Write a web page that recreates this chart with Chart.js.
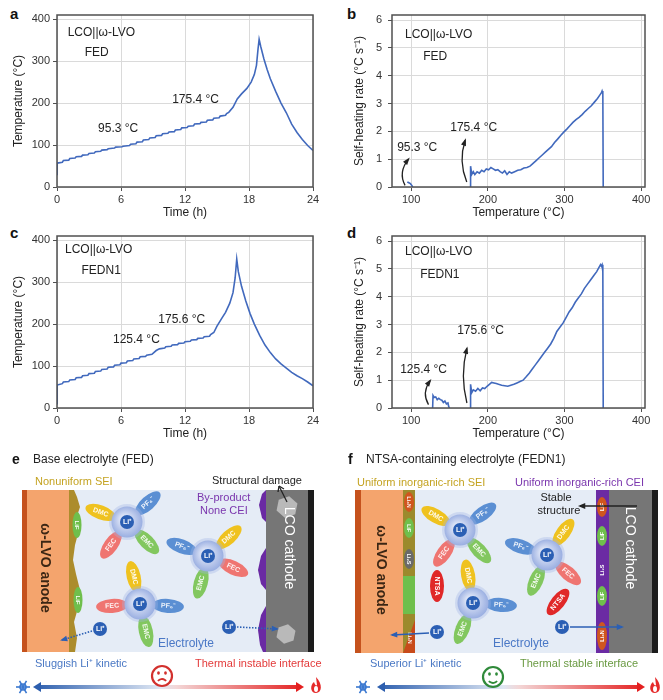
<!DOCTYPE html>
<html>
<head>
<meta charset="utf-8">
<script src="https://cdn.jsdelivr.net/npm/chart.js@4.4.0/dist/chart.umd.min.js"></script>
<style>
  body { margin: 0; background: #fff; width: 663px; height: 700px; position: relative; overflow: hidden;
         font-family: "Liberation Sans", Arial, sans-serif; }
  .box { position: absolute; }
  .tag { position: absolute; font-weight: bold; font-size: 15px; line-height: 15px; color: #111; }
  #scheme { position: absolute; left: 0; top: 440px; }
</style>
</head>
<body>
<div class="tag" style="left:10px;top:6px">a</div>
<div class="tag" style="left:347px;top:6px">b</div>
<div class="tag" style="left:10px;top:225px">c</div>
<div class="tag" style="left:347px;top:225px">d</div>
<div class="box" style="left:0;top:0;width:330px;height:222px"><canvas id="chartA"></canvas></div>
<div class="box" style="left:330px;top:0;width:333px;height:222px"><canvas id="chartB"></canvas></div>
<div class="box" style="left:0;top:221px;width:330px;height:222px"><canvas id="chartC"></canvas></div>
<div class="box" style="left:330px;top:221px;width:333px;height:222px"><canvas id="chartD"></canvas></div>
<canvas id="scheme" width="663" height="260"></canvas>
<script>
// ---- data ----
// a: FED, time (h) vs temperature (°C)
const timeA = [0, 0.02, 0.5, 0.6, 1.1, 1.2, 1.7, 1.8, 2.3, 2.4, 2.9, 3.0, 3.5, 3.6, 4.1, 4.2, 4.7, 4.8, 5.4, 5.5,
  6.1, 6.2, 6.8, 6.9, 7.4, 7.5, 8.0, 8.1, 8.6, 8.7, 9.2, 9.3, 9.8, 9.9, 10.4, 10.5, 11.0, 11.1, 11.6, 11.7,
  12.2, 12.3, 12.8, 12.9, 13.4, 13.5, 14.0, 14.1, 14.6, 14.7, 15.2, 15.3, 15.8, 15.9, 16.1, 16.5, 16.9, 17.3,
  17.8, 18.2, 18.5, 18.7, 18.85, 18.95, 19.1, 19.4, 19.7, 20.0, 20.5, 21.0, 21.5, 22.0, 22.5, 23.0, 23.5, 24.0]
const tempA = [30, 57, 59, 63, 64, 68, 69, 72, 73, 76, 77, 80, 81, 84, 85, 88, 89, 91, 93, 95,
  96, 97, 99, 102, 103, 107, 108, 112, 113, 117, 118, 122, 123, 127, 128, 131, 132, 136, 137, 141,
  142, 145, 146, 150, 151, 154, 155, 159, 160, 164, 165, 169, 171, 175, 178, 190, 210, 222,
  235, 250, 268, 290, 330, 352, 335, 305, 280, 258, 228, 200, 177, 150, 130, 113, 99, 87]

// c: FEDN1, time (h) vs temperature (°C)
const timeC = [0, 0.02, 0.5, 0.6, 1.1, 1.2, 1.7, 1.8, 2.3, 2.4, 2.9, 3.0, 3.5, 3.6, 4.1, 4.2, 4.7, 4.8, 5.3, 5.4,
  5.9, 6.0, 6.5, 6.6, 7.1, 7.2, 7.7, 7.8, 8.3, 8.4, 8.9, 9.3, 9.6, 10.1, 10.2, 10.7, 10.8, 11.3, 11.4, 11.9,
  12.0, 12.5, 12.6, 13.1, 13.2, 13.7, 13.8, 14.3, 14.4, 14.7, 15.0, 15.4, 15.8, 16.2, 16.5, 16.7, 16.85, 17.0,
  17.3, 17.7, 18.1, 18.5, 19.0, 19.5, 20.0, 20.5, 21.0, 21.5, 22.0, 22.5, 23.0, 23.5, 24.0]
const tempC = [10, 55, 58, 62, 63, 67, 68, 72, 73, 77, 78, 82, 83, 87, 88, 92, 93, 97, 98, 102,
  103, 107, 108, 112, 113, 117, 118, 122, 123, 126, 128, 137, 141, 143, 146, 147, 150, 151, 154, 155,
  158, 159, 162, 163, 166, 167, 170, 171, 175, 180, 195, 212, 228, 250, 275, 310, 355, 325,
  290, 255, 225, 200, 173, 150, 132, 117, 105, 95, 85, 77, 70, 62, 53]

// b: FED, temperature (°C) vs self-heating rate (°C/s); null splits the two segments
const tempB = [95, 97, 99, 101, 102, null,
  177, 177.5, 179, 181, 183, 186, 189, 192, 195, 198, 201, 204, 207, 210, 213, 216, 219, 222, 225, 228, 231,
  235, 239, 243, 247, 251, 255, 259, 263, 267, 271, 275, 279, 283, 287, 291, 295, 299, 303, 307, 311, 315,
  319, 323, 327, 331, 335, 339, 343, 346, 348, 349, 350, 350.5]
const rateB = [0.18, 0.15, 0.12, 0.05, 0, null,
  0, 0.75, 0.45, 0.55, 0.45, 0.55, 0.5, 0.6, 0.55, 0.65, 0.62, 0.7, 0.65, 0.6, 0.62, 0.55, 0.5, 0.58, 0.45, 0.55, 0.5,
  0.55, 0.6, 0.62, 0.68, 0.7, 0.75, 0.85, 0.95, 1.05, 1.15, 1.25, 1.35, 1.45, 1.6, 1.72, 1.85, 1.97, 2.08, 2.2, 2.32, 2.42,
  2.5, 2.6, 2.72, 2.82, 2.92, 3.05, 3.18, 3.3, 3.38, 3.45, 3.35, 0]

// d: FEDN1, temperature (°C) vs self-heating rate (°C/s)
const tempD = [128, 128.5, 130, 132, 134, 136, 138, 140, 142, 144, 146, 148, 149, 150, null,
  177, 177.5, 179, 181, 184, 187, 190, 193, 196, 199, 202, 205, 208, 211, 214, 218, 222, 226, 230, 234, 238,
  242, 246, 250, 254, 258, 262, 266, 270, 274, 278, 282, 286, 290, 294, 298, 302, 306, 310, 314, 318, 322,
  326, 330, 334, 338, 342, 345, 347, 348, 349, 350, 350.5]
const rateD = [0, 0.45, 0.38, 0.4, 0.3, 0.35, 0.3, 0.28, 0.2, 0.25, 0.15, 0.18, 0.05, 0, null,
  0, 0.85, 0.55, 0.65, 0.6, 0.7, 0.62, 0.72, 0.7, 0.78, 0.85, 0.92, 0.9, 0.88, 0.85, 0.82, 0.8, 0.78, 0.82, 0.85, 0.9,
  0.95, 1.0, 1.12, 1.25, 1.4, 1.55, 1.7, 1.85, 2.0, 2.15, 2.3, 2.5, 2.75, 2.9, 3.05, 3.25, 3.45, 3.6, 3.8, 3.95, 4.1,
  4.3, 4.45, 4.6, 4.75, 4.9, 5.05, 5.15, 5.1, 5.15, 4.9, 0]

const timeTicks = [0, 6, 12, 18, 24]
const tempTicks = [0, 100, 200, 300, 400]
const tempAxisTicks = [100, 200, 300, 400]
const rateTicks = [0, 1, 2, 3, 4, 5, 6]

const FONT = '"Liberation Sans", Arial, sans-serif'
Chart.defaults.font.family = FONT
Chart.defaults.color = '#222'

// box around plot area, text notes and curved arrows
const framePlugin = {
  id: 'frame',
  afterDatasetsDraw(chart, args, opts) {
    const {ctx, chartArea: a, scales: {x, y}} = chart
    ctx.save()
    ctx.strokeStyle = '#505050'
    ctx.lineWidth = 1.5
    ctx.strokeRect(a.left, a.top, a.right - a.left, a.bottom - a.top)
    ctx.fillStyle = '#222'
    ctx.font = '12px ' + FONT
    ctx.textBaseline = 'middle'
    ;(opts.notes || []).forEach(n => ctx.fillText(n.text, x.getPixelForValue(n.x), y.getPixelForValue(n.y)))
    ctx.strokeStyle = '#222'
    ctx.lineWidth = 1.3
    ;(opts.arrows || []).forEach(ar => {
      const x0 = x.getPixelForValue(ar.from[0]), y0 = y.getPixelForValue(ar.from[1])
      const x1 = x.getPixelForValue(ar.to[0]), y1 = y.getPixelForValue(ar.to[1])
      const cx = Math.min(x0, x1) - 7, cy = (y0 + y1) / 2
      ctx.beginPath()
      ctx.moveTo(x0, y0)
      ctx.quadraticCurveTo(cx, cy, x1, y1)
      ctx.stroke()
      const ang = Math.atan2(y1 - cy, x1 - cx)
      ctx.beginPath()
      ctx.moveTo(x1 + 2 * Math.cos(ang), y1 + 2 * Math.sin(ang))
      ctx.lineTo(x1 - 6 * Math.cos(ang - 0.45), y1 - 6 * Math.sin(ang - 0.45))
      ctx.lineTo(x1 - 6 * Math.cos(ang + 0.45), y1 - 6 * Math.sin(ang + 0.45))
      ctx.closePath()
      ctx.fill()
    })
    ctx.restore()
  }
}

function build(id, xs, ys, cfg) {
  const pts = xs.map((v, i) => ({x: v === null ? NaN : v, y: ys[i]}))
  return new Chart(document.getElementById(id), {
    type: 'line',
    data: {datasets: [{data: pts, borderColor: '#4169bd', borderWidth: 1.6, pointRadius: 0, tension: 0, spanGaps: false}]},
    options: {
      responsive: true,
      maintainAspectRatio: false,
      animation: false,
      layout: {padding: {left: 0, right: cfg.padR, top: 15, bottom: 0}},
      plugins: {legend: {display: false}, tooltip: {enabled: false}, frame: {notes: cfg.notes, arrows: cfg.arrows}},
      scales: {
        x: {
          type: 'linear', min: cfg.xMin, max: cfg.xMax,
          afterBuildTicks: s => { s.ticks = cfg.xTicks.map(v => ({value: v})) },
          afterFit: s => { s.height = 35 },
          grid: {color: '#dadada', tickLength: 4, tickColor: '#505050'},
          border: {display: false},
          ticks: {font: {size: 11}, padding: 2, color: '#333', maxRotation: 0},
          title: {display: true, text: cfg.xTitle, font: {size: 12}, color: '#222', padding: {top: 0, bottom: 2}}
        },
        y: {
          type: 'linear', min: 0, max: cfg.yMax,
          afterBuildTicks: s => { s.ticks = cfg.yTicks.map(v => ({value: v})) },
          afterFit: s => { s.width = cfg.yW },
          grid: {color: '#dadada', tickLength: 4, tickColor: '#505050'},
          border: {display: false},
          ticks: {font: {size: 11}, padding: cfg.yPad, color: '#333'},
          title: {display: true, text: cfg.yTitle, font: {size: 12}, color: '#222', padding: {top: cfg.yTitlePad, bottom: 0}}
        }
      }
    },
    plugins: [framePlugin]
  })
}

build('chartA', timeA, tempA, {
  xMin: 0, xMax: 24, xTicks: timeTicks, yMax: 410, yTicks: tempTicks, padR: 17, yW: 57, yPad: 3, yTitlePad: 11,
  xTitle: 'Time (h)', yTitle: 'Temperature (°C)',
  notes: [{text: 'LCO||ω-LVO', x: 1.0, y: 369}, {text: 'FED', x: 2.6, y: 319},
          {text: '95.3 °C', x: 3.85, y: 140}, {text: '175.4 °C', x: 10.8, y: 207}]
})
build('chartB', tempB, rateB, {
  xMin: 75, xMax: 405, xTicks: tempAxisTicks, yMax: 6.18, yTicks: rateTicks, padR: 18, yW: 62, yPad: 6, yTitlePad: 22,
  xTitle: 'Temperature (°C)', yTitle: 'Self-heating rate (°C s⁻¹)',
  notes: [{text: 'LCO||ω-LVO', x: 92, y: 5.47}, {text: 'FED', x: 115.7, y: 4.68},
          {text: '95.3 °C', x: 81.7, y: 1.4}, {text: '175.4 °C', x: 151, y: 2.12}],
  arrows: [{from: [92, 0.06], to: [96.5, 1.0]}, {from: [172.5, 0.18], to: [170.5, 1.68]}]
})
build('chartC', timeC, tempC, {
  xMin: 0, xMax: 24, xTicks: timeTicks, yMax: 410, yTicks: tempTicks, padR: 17, yW: 57, yPad: 3, yTitlePad: 11,
  xTitle: 'Time (h)', yTitle: 'Temperature (°C)',
  notes: [{text: 'LCO||ω-LVO', x: 0.75, y: 378}, {text: 'FEDN1', x: 2.3, y: 327},
          {text: '125.4 °C', x: 5.25, y: 162}, {text: '175.6 °C', x: 9.5, y: 211}]
})
build('chartD', tempD, rateD, {
  xMin: 75, xMax: 405, xTicks: tempAxisTicks, yMax: 6.18, yTicks: rateTicks, padR: 18, yW: 62, yPad: 6, yTitlePad: 22,
  xTitle: 'Temperature (°C)', yTitle: 'Self-heating rate (°C s⁻¹)',
  notes: [{text: 'LCO||ω-LVO', x: 92, y: 5.6}, {text: 'FEDN1', x: 111.7, y: 4.78},
          {text: '175.6 °C', x: 160, y: 2.76}, {text: '125.4 °C', x: 85.6, y: 1.36}],
  arrows: [{from: [122.6, 0.12], to: [124.8, 0.98]}, {from: [172.7, 0.18], to: [172.7, 2.14]}]
})

// ---- schematic panels e and f (illustration, drawn on a plain canvas) ----
const g = document.getElementById('scheme').getContext('2d')
g.translate(0, -440)

function txt(s, x, y, color, size, bold, align, rot) {
  g.save()
  g.translate(x, y)
  if (rot) g.rotate(rot)
  g.fillStyle = color
  g.font = (bold ? 'bold ' : '') + size + 'px ' + FONT
  g.textAlign = align || 'left'
  g.textBaseline = 'middle'
  g.fillText(s, 0, 0)
  g.restore()
}
function ell(x, y, rx, ry, rot, fill) {
  g.beginPath()
  g.ellipse(x, y, rx, ry, rot, 0, Math.PI * 2)
  g.fillStyle = fill
  g.fill()
}
function poly(pts, fill) {
  g.beginPath()
  pts.forEach((p, i) => i ? g.lineTo(p[0], p[1]) : g.moveTo(p[0], p[1]))
  g.closePath()
  g.fillStyle = fill
  g.fill()
}
const petalColor = {DMC: '#efc21f', 'PF₆⁻': '#5b8fd3', EMC: '#82c75f', FEC: '#ef7571', NTSA: '#e02828'}
function liIon(x, y, r) {
  ell(x, y, r, r, 0, '#2b5fb4')
  txt('Li⁺', x, y + 0.5, '#fff', r, true, 'center')
}
function cluster(cx, cy, petals) {
  petals.forEach(([name, deg]) => {
    const a = deg * Math.PI / 180
    const px = cx + 28 * Math.cos(a), py = cy + 28 * Math.sin(a)
    ell(px, py, 16, 7, a, petalColor[name])
    const flip = Math.cos(a) < 0 ? a + Math.PI : a
    txt(name, px, py, 'rgba(255,255,255,0.9)', 7, true, 'center', flip)
  })
  const grd = g.createRadialGradient(cx - 3, cy - 3, 2, cx, cy, 17)
  grd.addColorStop(0, '#e8edfa')
  grd.addColorStop(1, '#93a9df')
  ell(cx, cy, 18, 18, 0, 'rgba(160,180,230,0.35)')
  ell(cx, cy, 15.5, 15.5, 0, grd)
  liIon(cx, cy, 7)
}
function arrowLine(x0, y0, x1, y1, color, dotted) {
  g.save()
  g.strokeStyle = color
  g.fillStyle = color
  g.lineWidth = 1.6
  if (dotted) g.setLineDash([1.5, 1.5])
  g.beginPath(); g.moveTo(x0, y0); g.lineTo(x1, y1); g.stroke()
  g.setLineDash([])
  const a = Math.atan2(y1 - y0, x1 - x0)
  g.beginPath()
  g.moveTo(x1 + 2 * Math.cos(a), y1 + 2 * Math.sin(a))
  g.lineTo(x1 - 6 * Math.cos(a - 0.5), y1 - 6 * Math.sin(a - 0.5))
  g.lineTo(x1 - 6 * Math.cos(a + 0.5), y1 - 6 * Math.sin(a + 0.5))
  g.closePath(); g.fill()
  g.restore()
}
function hexa(x, y, r, fill) {
  const pts = []
  for (let i = 0; i < 6; i++) {
    const a = Math.PI / 6 + i * Math.PI / 3 + 0.2
    pts.push([x + r * Math.cos(a), y + r * Math.sin(a)])
  }
  poly(pts, fill)
}
function snow(x, y, color) {
  g.save()
  g.strokeStyle = color; g.lineWidth = 1.6
  for (let i = 0; i < 3; i++) {
    const a = i * Math.PI / 3
    g.beginPath()
    g.moveTo(x - 7 * Math.cos(a), y - 7 * Math.sin(a)); g.lineTo(x + 7 * Math.cos(a), y + 7 * Math.sin(a))
    g.stroke()
  }
  g.beginPath(); g.arc(x, y, 3, 0, Math.PI * 2); g.stroke()
  g.restore()
}
function flame(x, y, color) {
  g.beginPath()
  g.moveTo(x, y - 9)
  g.bezierCurveTo(x + 7, y - 2, x + 6, y + 7, x, y + 7)
  g.bezierCurveTo(x - 6, y + 7, x - 6, y - 1, x - 2, y - 4)
  g.bezierCurveTo(x - 1, y - 1, x, y, x + 1, y - 1)
  g.closePath()
  g.fillStyle = color; g.fill()
  ell(x, y + 3, 2, 3, 0, '#fff')
}
function face(x, y, color, happy) {
  g.save()
  g.strokeStyle = color; g.lineWidth = 2.2
  g.beginPath(); g.arc(x, y, 10, 0, Math.PI * 2); g.stroke()
  ell(x - 3.5, y - 3, 1.4, 1.8, 0, color)
  ell(x + 3.5, y - 3, 1.4, 1.8, 0, color)
  g.lineWidth = 1.8
  g.beginPath()
  if (happy) g.arc(x, y + 1, 5, 0.2 * Math.PI, 0.8 * Math.PI)
  else g.arc(x, y + 8, 5, 1.2 * Math.PI, 1.8 * Math.PI)
  g.stroke()
  g.restore()
}
function tempBar(x0, x1, y) {
  const grd = g.createLinearGradient(x0, 0, x1, 0)
  grd.addColorStop(0, '#2c5eae')
  grd.addColorStop(0.47, '#dfe7f3')
  grd.addColorStop(0.53, '#f3d6d6')
  grd.addColorStop(1, '#e41f1f')
  g.fillStyle = grd
  g.fillRect(x0 + 6, y - 2, x1 - x0 - 12, 4)
  poly([[x0, y], [x0 + 8, y - 5], [x0 + 8, y + 5]], '#2c5eae')
  poly([[x1, y], [x1 - 8, y - 5], [x1 - 8, y + 5]], '#e41f1f')
}

// panel e
txt('e', 12, 460, '#111', 14, true)
txt('Base electrolyte (FED)', 33, 460, '#222', 12, false)
txt('Nonuniform SEI', 35, 482, '#c4a321', 11, false)
txt('Structural damage', 212, 481, '#222', 11, false)
g.fillStyle = '#e5ecf6'; g.fillRect(22, 490, 292, 162)
g.fillStyle = '#c5521d'; g.fillRect(22, 490, 5, 162)
g.fillStyle = '#f4a46d'; g.fillRect(27, 490, 43, 162)
poly([[69, 490], [74, 490], [77, 497], [80, 507], [77, 516], [79, 530], [75, 545], [73, 560], [76, 574],
  [80, 590], [78, 608], [74, 622], [77, 638], [75, 652], [69, 652]], '#ac8c2c')
ell(77, 525, 4.5, 13, 0, '#6fbf4c')
ell(78, 600, 4.5, 13, 0, '#6fbf4c')
txt('LiF', 77, 525, '#fff', 6, true, 'center', Math.PI / 2)
txt('LiF', 78, 600, '#fff', 6, true, 'center', Math.PI / 2)
txt('ω-LVO anode', 45, 568, '#3b2614', 14, true, 'center', Math.PI / 2)
g.fillStyle = '#767676'; g.fillRect(266, 490, 42, 162)
g.fillStyle = '#1b1b1b'; g.fillRect(308, 490, 6, 162)
poly([[266, 490], [262, 494], [259, 505], [262, 518], [266, 522]], '#6a2aa3')
poly([[266, 548], [261, 556], [258, 570], [261, 584], [266, 590]], '#6a2aa3')
poly([[266, 606], [261, 615], [258, 630], [260, 645], [263, 652], [266, 652]], '#6a2aa3')
hexa(287, 507, 11, '#b9b9b9')
hexa(286, 634, 10, '#b9b9b9')
txt('LCO cathode', 289, 548, '#fff', 14, false, 'center', Math.PI / 2)
g.save(); g.strokeStyle = '#222'; g.lineWidth = 1.3
g.beginPath(); g.moveTo(287, 502); g.lineTo(279, 486); g.stroke()
g.beginPath(); g.moveTo(279, 486); g.lineTo(278, 492); g.moveTo(279, 486); g.lineTo(284, 489); g.stroke(); g.restore()
txt('By-product', 197, 498, '#7a35ad', 11, false)
txt('None CEI', 200, 511, '#7a35ad', 11, false)
cluster(127, 522, [['DMC', -160], ['PF₆⁻', -42], ['FEC', 125], ['EMC', 45]])
cluster(208, 556, [['PF₆⁻', -160], ['DMC', -42], ['FEC', 25], ['EMC', 105]])
cluster(140, 604, [['DMC', -103], ['FEC', 176], ['PF₆⁻', 4], ['EMC', 78]])
liIon(100, 629, 7)
arrowLine(92, 631, 62, 640, '#2b5fb4', true)
liIon(229, 627, 7)
arrowLine(237, 627, 277, 629, '#2b5fb4', true)
txt('Electrolyte', 158, 644, '#4a78c6', 12, false)
txt('Sluggish Li⁺ kinetic', 35, 664, '#4a78c4', 11, false)
txt('Thermal instable interface', 195, 664, '#e33a3a', 11, false)
tempBar(33, 304, 687)
snow(23, 687, '#3a78d0')
flame(316, 686, '#e52a2a')
face(162, 676, '#d2302d', false)

// panel f
txt('f', 348, 460, '#111', 14, true)
txt('NTSA-containing electrolyte (FEDN1)', 366, 460, '#222', 12, false)
txt('Uniform inorganic-rich SEI', 357, 483, '#c4a321', 11, false)
txt('Uniform inorganic-rich CEI', 515, 483, '#7a35ad', 11, false)
g.fillStyle = '#e5ecf6'; g.fillRect(355, 490, 303, 163)
g.fillStyle = '#c5521d'; g.fillRect(355, 490, 6, 163)
g.fillStyle = '#f4a46d'; g.fillRect(361, 490, 42, 163)
g.fillStyle = '#9c8a2c'; g.fillRect(403, 490, 12, 163)
ell(409, 502, 5, 10, 0, '#d0561e')
ell(409, 528, 5, 10, 0, '#6fbf4c')
ell(409, 559, 5, 10, 0, '#6a6a6a')
g.fillStyle = '#6fbf4c'; g.fillRect(403, 576, 12, 38)
poly([[403, 653], [415, 620], [415, 653]], '#c84a1a')
txt('Li₃N', 409, 502, '#fff', 5.5, true, 'center', Math.PI / 2)
txt('LiF', 409, 528, '#fff', 5.5, true, 'center', Math.PI / 2)
txt('Li₂S', 409, 559, '#fff', 5.5, true, 'center', Math.PI / 2)
txt('Li₃N', 410, 638, '#fff', 5.5, true, 'center', Math.PI / 2)
txt('ω-LVO anode', 381, 570, '#3b2614', 14, true, 'center', Math.PI / 2)
g.fillStyle = '#6b2ba3'; g.fillRect(596, 490, 13, 163)
g.fillStyle = '#767676'; g.fillRect(609, 490, 43, 163)
g.fillStyle = '#1b1b1b'; g.fillRect(652, 490, 6, 163)
ell(602, 507, 5, 10, 0, '#d0561e')
ell(602, 536, 5, 10, 0, '#6fbf4c')
ell(602, 596, 5, 10, 0, '#6fbf4c')
ell(602, 636, 5, 14, 0, '#d0561e')
txt('LiF', 602, 507, '#fff', 5.5, true, 'center', -Math.PI / 2)
txt('LiF', 602, 536, '#fff', 5.5, true, 'center', -Math.PI / 2)
txt('Li₂S', 602, 570, '#fff', 5.5, true, 'center', -Math.PI / 2)
txt('LiF', 602, 596, '#fff', 5.5, true, 'center', -Math.PI / 2)
txt('Li₃N', 602, 636, '#fff', 5.5, true, 'center', -Math.PI / 2)
txt('LCO cathode', 630, 548, '#fff', 14, false, 'center', Math.PI / 2)
txt('Stable', 556, 498, '#222', 11, false, 'center')
txt('structure', 559, 511, '#222', 11, false, 'center')
arrowLine(637, 506, 580, 506, '#222', false)
cluster(460, 530, [['DMC', -150], ['PF₆⁻', -36], ['FEC', 125], ['EMC', 47]])
cluster(547, 555, [['DMC', -54], ['PF₆⁻', -162], ['FEC', 41], ['EMC', 113]])
ell(558, 602, 16, 7, -0.9 + Math.PI, petalColor.NTSA)
txt('NTSA', 558, 602, '#fff', 7, true, 'center', -0.9 + Math.PI * 2)
cluster(473, 603, [['DMC', -100], ['PF₆⁻', 4], ['EMC', 112]])
ell(437, 586, 7, 16, 0, petalColor.NTSA)
txt('NTSA', 437, 586, '#fff', 7, true, 'center', Math.PI / 2)
liIon(437, 632, 7)
arrowLine(429, 633, 392, 635, '#2b5fb4', false)
liIon(562, 627, 7)
arrowLine(570, 627, 622, 627, '#2b5fb4', false)
txt('Electrolyte', 493, 644, '#4a78c6', 12, false)
txt('Superior Li⁺ kinetic', 370, 664, '#4a78c4', 11, false)
txt('Thermal stable interface', 520, 664, '#6a9a42', 11, false)
tempBar(377, 645, 687)
snow(363, 687, '#3a78d0')
flame(655, 686, '#e52a2a')
face(493, 677, '#2f8a3a', true)
</script>
</body>
</html>
